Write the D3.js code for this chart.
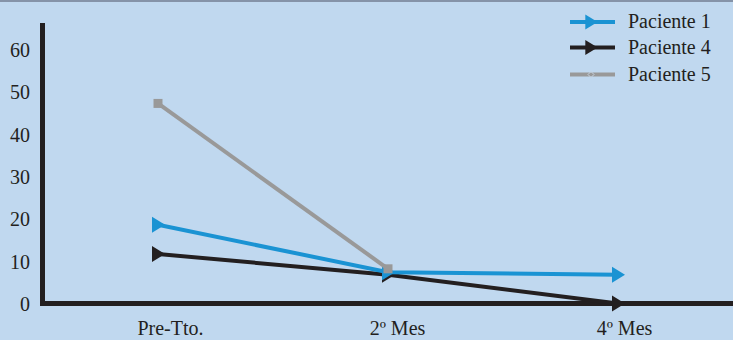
<!DOCTYPE html>
<html>
<head>
<meta charset="utf-8">
<script src="https://cdn.jsdelivr.net/npm/d3@7/dist/d3.min.js"></script>
<style>
  html, body { margin: 0; padding: 0; background: #c0d8ef; }
  svg { display: block; }
  text { font-family: "Liberation Serif", "Times New Roman", serif; fill: #231f20; }
</style>
</head>
<body>
<svg id="chart" width="733" height="340"></svg>
<script>
// Evaluation times along the x axis
const categories = ["Pre-Tto.", "2º Mes", "4º Mes"];
const yTicks = [0, 10, 20, 30, 40, 50, 60];

// Measured values per patient (null = not measured)
const paciente1 = [18.6, 7.4, 6.8];
const paciente4 = [11.7, 6.8, 0];
const paciente5 = [47.3, 8.2, null];

const seriesNames = ["Paciente 1", "Paciente 4", "Paciente 5"];
const seriesColors = ["#1a93d3", "#231f20", "#999999"];
const seriesMarkers = ["triangle", "triangle", "square"];
const seriesValues = [paciente1, paciente4, paciente5];

const svg = d3.select("#chart");
const W = 733, H = 340;

svg.append("rect").attr("width", W).attr("height", H).attr("fill", "#c0d8ef");
svg.append("rect").attr("width", W).attr("height", 2).attr("fill", "#8593a8");

const x = d3.scalePoint().domain(categories).range([158, 618]);
// category captions sit a little to the right of their data points
const xLabel = d3.scalePoint().domain(categories).range([170, 624]);
const y = d3.scaleLinear().domain([0, 60]).range([303.5, 49.7]);

// Y tick labels
const yAxis = d3.axisLeft(y).tickValues(yTicks).tickSize(0).tickPadding(0);
const gy = svg.append("g").attr("transform", "translate(30,0)").call(yAxis);
gy.select(".domain").remove();
gy.selectAll("text")
  .style("font-size", "20px")
  .attr("fill", "#231f20")
  .attr("dy", "0.34em");

// X category labels
const xAxis = d3.axisBottom(xLabel).tickSize(0).tickPadding(0);
const gx = svg.append("g").attr("transform", "translate(0,335)").call(xAxis);
gx.select(".domain").remove();
gx.selectAll("text")
  .style("font-size", "20px")
  .attr("fill", "#231f20")
  .attr("dy", "0");

// Axis lines
svg.append("line").attr("x1", 42.5).attr("x2", 42.5).attr("y1", 23).attr("y2", 306)
  .attr("stroke", "#231f20").attr("stroke-width", 5);
svg.append("line").attr("x1", 40).attr("x2", W).attr("y1", y(0)).attr("y2", y(0))
  .attr("stroke", "#231f20").attr("stroke-width", 5);

function marker(g, type, cx, cy, color, s) {
  if (type === "triangle") {
    g.append("path")
      .attr("d", `M${cx - 6 * s},${cy - 8 * s} L${cx + 7 * s},${cy} L${cx - 6 * s},${cy + 8 * s} Z`)
      .attr("fill", color);
  } else {
    g.append("rect").attr("x", cx - 4.5).attr("y", cy - 4.5)
      .attr("width", 9).attr("height", 9).attr("fill", color);
  }
}

// Series: black first, then blue, then grey on top
const order = [1, 0, 2];
order.forEach(i => {
  const vals = seriesValues[i];
  const pts = categories.map((c, j) => ({ c, v: vals[j] })).filter(d => d.v !== null);
  const line = d3.line().x(d => x(d.c)).y(d => y(d.v));
  const g = svg.append("g");
  g.append("path").datum(pts).attr("d", line)
    .attr("fill", "none").attr("stroke", seriesColors[i]).attr("stroke-width", 4);
  pts.forEach(d => marker(g, seriesMarkers[i], x(d.c), y(d.v), seriesColors[i], 1));
});

// Legend
const legendY = [22, 47.5, 74.5];
seriesNames.forEach((name, i) => {
  const g = svg.append("g");
  const ly = legendY[i];
  g.append("line").attr("x1", 570).attr("x2", 615).attr("y1", ly).attr("y2", ly)
    .attr("stroke", seriesColors[i]).attr("stroke-width", 4);
  if (seriesMarkers[i] === "triangle") {
    marker(g, "triangle", 591, ly, seriesColors[i], 0.95);
  } else {
    g.append("path")
      .attr("d", `M${588},${ly} L${591},${ly - 3} L${594},${ly} L${591},${ly + 3} Z`)
      .attr("fill", "none").attr("stroke", "#c8d4e2").attr("stroke-width", 1);
  }
  g.append("text").attr("x", 628).attr("y", ly + 6)
    .style("font-size", "20px").text(name);
});
</script>
</body>
</html>
